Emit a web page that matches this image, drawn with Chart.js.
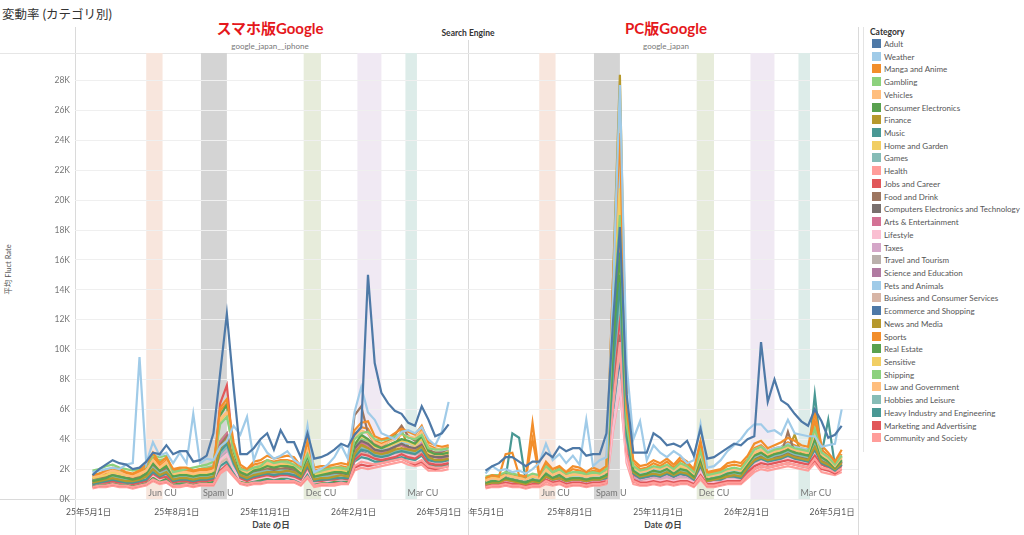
<!DOCTYPE html>
<html lang="ja">
<head>
<meta charset="utf-8">
<script src="https://cdn.jsdelivr.net/npm/chart.js@4.4.1/dist/chart.umd.min.js"></script>
<style>
  body { margin: 0; background: #fff; font-family: Lato, "Noto Sans CJK JP", sans-serif; }
  #page { position: relative; width: 1024px; height: 535px; overflow: hidden; }
  .t { position: absolute; white-space: nowrap; }
  .ln { position: absolute; background: #dadada; }
  canvas { position: absolute; }
  .li { position: absolute; left: 872px; font-size: 8px; color: #555; white-space: nowrap; line-height: 10px; }
  .li span { display: inline-block; width: 9px; height: 9px; vertical-align: -1px; margin-right: 3px; }
</style>
</head>
<body>
<div id="page">
  <div class="t" style="left:2px;top:4px;font-size:12.5px;color:#333;">変動率 (カテゴリ別)</div>
  <div class="t" style="left:170px;width:200px;text-align:center;top:17px;font-size:15px;font-weight:bold;color:#e5181c;">スマホ版Google</div>
  <div class="t" style="left:566px;width:200px;text-align:center;top:17px;font-size:15px;font-weight:bold;color:#e5181c;">PC版Google</div>
  <div class="t" style="left:418px;width:100px;text-align:center;top:28px;font-size:8.5px;font-weight:bold;color:#333;">Search Engine</div>
  <div class="t" style="left:170px;width:200px;text-align:center;top:41px;font-size:8px;color:#777;">google_japan__iphone</div>
  <div class="t" style="left:566px;width:200px;text-align:center;top:41px;font-size:8px;color:#777;">google_japan</div>
  <div class="t" style="left:-28px;top:264px;width:70px;text-align:center;font-size:7.5px;color:#555;transform:rotate(-90deg);">平均 Fluct Rate</div>
  <div class="t" style="left:221px;width:100px;text-align:center;top:518px;font-size:8.5px;font-weight:bold;color:#444;">Date の日</div>
  <div class="t" style="left:613px;width:100px;text-align:center;top:518px;font-size:8.5px;font-weight:bold;color:#444;">Date の日</div>

  <div class="ln" style="left:75px;top:27px;width:1px;height:508px;"></div>
  <div class="ln" style="left:468px;top:40px;width:1px;height:495px;"></div>
  <div class="ln" style="left:858px;top:27px;width:1px;height:508px;"></div>
  <div class="ln" style="left:863px;top:27px;width:1px;height:425px;background:#e4e4e4;"></div>
  <div class="ln" style="left:0;top:53px;width:859px;height:1px;background:#e6e6e6;"></div>
  <div class="ln" style="left:0;top:499px;width:859px;height:1px;"></div>

  <canvas id="mobile" width="468" height="482" style="left:0;top:53px;"></canvas>
  <canvas id="pc" width="390" height="482" style="left:468px;top:53px;"></canvas>

  <div class="t" style="left:870px;top:27px;font-size:8.5px;font-weight:bold;color:#333;">Category</div>
  <div id="legend"></div>
</div>

<script>
// weekly points
const weeks = [
  '2025-05-05','2025-05-12','2025-05-19','2025-05-26','2025-06-02','2025-06-09','2025-06-16','2025-06-23','2025-06-30','2025-07-07',
  '2025-07-14','2025-07-21','2025-07-28','2025-08-04','2025-08-11','2025-08-18','2025-08-25','2025-09-01','2025-09-08','2025-09-15',
  '2025-09-22','2025-09-29','2025-10-06','2025-10-13','2025-10-20','2025-10-27','2025-11-03','2025-11-10','2025-11-17','2025-11-24',
  '2025-12-01','2025-12-08','2025-12-15','2025-12-22','2025-12-29','2026-01-05','2026-01-12','2026-01-19','2026-01-26','2026-02-02',
  '2026-02-09','2026-02-16','2026-02-23','2026-03-02','2026-03-09','2026-03-16','2026-03-23','2026-03-30','2026-04-06','2026-04-13',
  '2026-04-20','2026-04-27','2026-05-04','2026-05-11'
];

const categories = [
  'Adult','Weather','Manga and Anime','Gambling','Vehicles','Consumer Electronics','Finance','Music',
  'Home and Garden','Games','Health','Jobs and Career','Food and Drink','Computers Electronics and Technology',
  'Arts & Entertainment','Lifestyle','Taxes','Travel and Tourism','Science and Education','Pets and Animals',
  'Business and Consumer Services','Ecommerce and Shopping','News and Media','Sports','Real Estate','Sensitive',
  'Shipping','Law and Government','Hobbies and Leisure','Heavy Industry and Engineering','Marketing and Advertising',
  'Community and Society'
];

const colors = [
  '#4e79a7','#a0cbe8','#f28e2b','#8cd17d','#ffbe7d','#59a14f','#b6992d','#499894',
  '#f1ce63','#86bcb6','#ff9d9a','#e15759','#9d7660','#79706e','#d37295','#fabfd2',
  '#d4a6c8','#bab0ac','#b07aa1','#a0cbe8','#d7b5a6','#4e79a7','#b6992d','#f28e2b',
  '#59a14f','#f1ce63','#8cd17d','#ffbe7d','#86bcb6','#499894','#e15759','#ff9d9a'
];

// 平均 Fluct Rate (K), google_japan__iphone, one row per category
const mobileRates = [
  [1.6,2.0,2.3,2.6,2.4,2.3,2.0,2.1,2.5,3.1, 3.0,3.6,3.0,3.2,3.2,2.5,2.6,2.9,4.4,8.4, 12.4,7.5,3.0,3.0,3.4,4.0,4.4,3.3,4.6,3.8, 3.8,2.8,4.4,2.7,2.8,3.0,3.3,3.7,3.5,4.3, 4.8,15.0,9.1,7.1,6.4,5.9,5.7,5.1,4.9,6.2, 5.3,4.2,4.4,5.0], // Adult
  [1.8,1.9,2.0,2.1,2.0,2.3,2.4,9.5,2.4,3.8, 2.9,3.1,2.4,3.1,2.4,5.7,2.4,2.7,2.6,3.5, 3.9,4.9,4.3,5.5,2.6,3.8,3.1,2.7,2.9,3.2, 2.6,2.3,4.9,1.8,2.0,2.3,2.8,3.6,2.7,5.8, 7.5,5.8,5.3,4.4,4.2,4.0,4.5,4.6,4.4,4.8, 4.0,3.6,4.5,6.5], // Weather
  [1.6,1.7,1.9,2.1,2.0,1.8,1.7,1.9,2.3,3.1, 2.4,2.8,2.0,2.1,2.1,1.9,2.0,2.0,2.1,6.1, 6.7,3.8,2.3,2.0,2.5,2.6,2.9,2.7,2.8,2.9, 2.8,2.2,3.9,2.1,2.2,2.2,2.3,2.4,2.3,4.6, 5.1,5.2,4.2,4.0,4.1,4.4,4.7,4.5,4.3,4.9, 3.8,3.6,3.5,3.6], // Manga and Anime
  [1.9,2.0,2.2,2.3,2.1,2.0,1.9,2.0,2.2,2.9, 2.8,2.9,1.8,1.9,2.0,2.1,2.2,2.3,2.5,5.0, 5.5,3.3,2.0,1.9,2.1,2.2,2.6,2.4,2.5,2.5, 2.3,2.0,3.0,1.8,1.9,2.0,2.1,2.1,2.0,4.0, 4.4,4.5,4.0,3.9,4.0,4.2,4.4,4.1,4.0,4.3, 3.4,3.3,3.3,3.4], // Gambling
  [1.5,1.6,1.8,1.9,1.8,1.6,1.5,1.7,1.9,2.6, 2.1,2.5,1.7,1.8,1.8,1.7,1.8,1.8,1.9,5.4, 5.8,3.4,2.0,1.8,2.1,2.3,2.4,2.3,2.4,2.5, 2.3,1.9,3.3,1.8,1.9,1.9,2.0,2.1,2.0,4.1, 4.6,4.4,3.8,3.6,3.8,4.0,4.3,4.2,4.1,4.5, 3.5,3.3,3.4,3.6], // Vehicles
  [1.2,1.3,1.4,1.6,1.5,1.4,1.3,1.4,1.7,2.4, 1.9,2.2,1.5,1.6,1.6,1.5,1.6,1.6,1.7,5.6, 6.3,3.2,1.8,1.6,1.9,2.0,2.2,2.1,2.2,2.2, 2.1,1.7,2.9,1.5,1.6,1.7,1.8,1.8,1.7,3.6, 4.3,4.0,3.6,3.4,3.6,3.8,4.0,3.9,3.7,4.2, 3.2,3.0,3.0,3.1], // Consumer Electronics
  [1.1,1.2,1.3,1.4,1.3,1.2,1.2,1.3,1.5,2.0, 1.6,1.8,1.3,1.4,1.4,1.3,1.4,1.4,1.5,3.4, 4.0,2.6,1.6,1.4,1.6,1.7,1.8,1.8,1.8,1.9, 1.8,1.5,2.4,1.3,1.4,1.4,1.5,1.6,1.5,3.0, 3.6,3.4,3.1,3.0,3.1,3.3,3.4,3.3,3.2,3.5, 2.8,2.6,2.6,2.7], // Finance
  [1.0,1.1,1.2,1.3,1.2,1.1,1.1,1.2,1.3,1.8, 1.5,1.7,1.2,1.3,1.3,1.2,1.3,1.3,1.4,3.2, 3.7,2.4,1.5,1.3,1.5,1.6,1.7,1.6,1.7,1.7, 1.6,1.4,2.2,1.2,1.3,1.3,1.4,1.4,1.4,2.8, 3.3,3.2,2.9,2.8,2.9,3.1,3.2,3.1,3.0,3.3, 2.6,2.5,2.5,2.6], // Music
  [1.4,1.5,1.6,1.8,1.7,1.6,1.5,1.6,1.9,2.6, 2.0,2.4,1.6,1.7,1.7,1.6,1.7,1.7,1.8,5.2, 5.8,3.0,1.9,1.7,2.0,2.1,2.3,2.2,2.3,2.3, 2.2,1.8,3.1,1.6,1.7,1.8,1.9,1.9,1.8,3.7, 4.2,4.0,3.5,3.4,3.5,3.7,3.9,3.8,3.6,4.0, 3.1,3.0,3.0,3.2], // Home and Garden
  [1.2,1.3,1.3,1.5,1.4,1.3,1.2,1.3,1.5,2.1, 1.7,1.9,1.4,1.5,1.5,1.4,1.5,1.5,1.6,3.0, 3.5,2.3,1.6,1.4,1.7,1.8,1.9,1.8,1.9,1.9, 1.8,1.5,2.5,1.4,1.5,1.5,1.6,1.6,1.5,3.0, 3.4,3.3,3.0,2.9,3.0,3.2,3.3,3.2,3.1,3.4, 2.7,2.6,2.6,2.7], // Games
  [0.8,0.9,0.9,1.0,0.9,0.9,0.8,0.9,1.0,1.3, 1.1,1.2,0.9,0.9,1.0,0.9,1.0,1.0,1.0,1.8, 2.2,1.6,1.1,1.0,1.1,1.1,1.2,1.2,1.2,1.2, 1.2,1.0,1.5,0.9,1.0,1.0,1.0,1.1,1.0,2.2, 2.5,2.4,2.3,2.4,2.5,2.6,2.7,2.5,2.4,2.6, 2.2,2.1,2.1,2.2], // Health
  [1.0,1.1,1.1,1.2,1.1,1.1,1.0,1.1,1.2,1.7, 1.4,1.5,1.1,1.2,1.2,1.1,1.2,1.2,1.3,6.4, 7.6,3.0,1.4,1.2,1.4,1.5,1.6,1.5,1.6,1.6, 1.5,1.3,2.1,1.2,1.2,1.3,1.3,1.4,1.3,2.6, 3.0,2.9,2.7,2.6,2.7,2.8,3.0,2.8,2.7,3.0, 2.4,2.3,2.3,2.4], // Jobs and Career
  [1.3,1.4,1.5,1.6,1.5,1.4,1.4,1.5,1.7,2.3, 1.8,2.1,1.5,1.6,1.6,1.5,1.6,1.6,1.7,3.6, 4.2,2.6,1.7,1.5,1.8,1.9,2.0,2.0,2.0,2.1, 2.0,1.6,2.7,1.5,1.6,1.6,1.7,1.8,1.7,5.6, 6.2,4.4,3.7,3.5,3.8,4.3,4.9,4.2,3.9,4.1, 3.3,3.1,3.1,3.2], // Food and Drink
  [1.2,1.3,1.4,1.5,1.4,1.3,1.3,1.4,1.6,2.1, 1.7,1.9,1.4,1.5,1.5,1.4,1.5,1.5,1.6,3.4, 4.0,2.5,1.6,1.5,1.7,1.8,1.9,1.9,1.9,2.0, 1.9,1.5,2.6,1.4,1.5,1.5,1.6,1.7,1.6,3.4, 3.9,3.7,3.3,3.2,3.3,3.5,3.7,3.5,3.4,3.6, 2.9,2.8,2.8,2.9], // Computers Electronics and Technology
  [1.2,1.3,1.4,1.5,1.4,1.3,1.3,1.4,1.6,2.2, 1.7,2.0,1.4,1.5,1.5,1.4,1.5,1.5,1.6,3.8, 4.4,2.6,1.6,1.5,1.7,1.8,1.9,1.9,1.9,2.0, 1.9,1.5,2.6,1.4,1.5,1.5,1.6,1.7,1.6,3.3, 3.8,3.6,3.2,3.1,3.3,3.5,3.6,3.4,3.3,3.7, 2.9,2.8,2.7,2.8], // Arts & Entertainment
  [1.0,1.1,1.1,1.2,1.1,1.1,1.0,1.1,1.2,1.6, 1.3,1.5,1.1,1.2,1.2,1.1,1.2,1.2,1.3,2.6, 3.0,2.0,1.3,1.2,1.3,1.4,1.5,1.4,1.5,1.5, 1.4,1.2,1.9,1.1,1.2,1.2,1.3,1.3,1.3,2.6, 3.0,2.9,2.7,2.7,2.8,2.9,3.0,2.9,2.8,3.0, 2.5,2.4,2.4,2.5], // Lifestyle
  [1.1,1.2,1.2,1.4,1.3,1.2,1.1,1.2,1.4,1.8, 1.5,1.7,1.2,1.3,1.3,1.2,1.3,1.3,1.4,2.9, 3.3,2.2,1.4,1.3,1.5,1.6,1.7,1.6,1.7,1.7, 1.6,1.3,2.1,1.2,1.3,1.3,1.4,1.5,1.4,2.9, 3.3,3.2,2.9,2.8,2.9,3.1,3.2,3.1,3.0,3.3, 2.6,2.5,2.5,2.6], // Taxes
  [1.1,1.2,1.3,1.4,1.3,1.2,1.2,1.3,1.4,1.9, 1.6,1.8,1.3,1.4,1.4,1.3,1.4,1.4,1.5,2.8, 3.2,2.2,1.5,1.3,1.5,1.6,1.7,1.7,1.7,1.8, 1.7,1.4,2.3,1.3,1.4,1.4,1.5,1.5,1.5,3.0, 3.5,3.3,3.0,2.9,3.0,3.2,3.3,3.2,3.1,3.4, 2.7,2.6,2.6,2.7], // Travel and Tourism
  [1.1,1.2,1.2,1.4,1.3,1.2,1.1,1.2,1.4,1.9, 1.5,1.7,1.2,1.3,1.3,1.2,1.3,1.3,1.4,3.1, 3.5,2.3,1.4,1.3,1.5,1.6,1.7,1.6,1.7,1.7, 1.6,1.4,2.2,1.2,1.3,1.3,1.4,1.5,1.4,2.9, 3.4,3.2,2.9,2.8,2.9,3.1,3.3,3.1,3.0,3.3, 2.6,2.5,2.5,2.6], // Science and Education
  [1.3,1.4,1.5,1.6,1.5,1.4,1.4,1.5,1.6,2.2, 1.8,2.0,1.5,1.6,1.6,1.5,1.6,1.6,1.7,2.7, 3.0,2.4,1.7,1.5,1.7,1.8,1.9,1.8,1.9,1.9, 1.8,1.5,2.7,1.4,1.5,1.6,1.7,1.8,1.7,3.4, 3.9,3.6,3.3,3.3,3.4,3.6,3.8,3.7,3.6,3.9, 3.1,3.0,3.2,3.3], // Pets and Animals
  [1.0,1.1,1.2,1.3,1.2,1.1,1.1,1.2,1.3,1.7, 1.4,1.6,1.2,1.2,1.3,1.2,1.2,1.3,1.3,2.4, 2.7,2.0,1.3,1.2,1.4,1.5,1.6,1.5,1.6,1.6, 1.5,1.3,2.0,1.2,1.2,1.3,1.3,1.4,1.3,2.7, 3.1,3.0,2.8,2.7,2.8,3.0,3.1,3.0,2.9,3.2, 2.5,2.4,2.4,2.5], // Business and Consumer Services
  [1.0,1.1,1.2,1.3,1.2,1.2,1.1,1.2,1.3,1.8, 1.5,1.6,1.2,1.3,1.3,1.2,1.3,1.3,1.4,2.8, 3.2,2.2,1.4,1.3,1.5,1.5,1.6,1.6,1.6,1.7, 1.6,1.3,2.2,1.2,1.3,1.3,1.4,1.4,1.4,2.8, 3.2,3.0,2.8,2.7,2.8,3.0,3.1,3.0,2.9,3.2, 2.5,2.4,2.4,2.6], // Ecommerce and Shopping
  [1.2,1.3,1.4,1.5,1.4,1.3,1.3,1.4,1.6,2.1, 1.7,1.9,1.4,1.5,1.5,1.4,1.5,1.5,1.6,3.4, 4.0,2.5,1.6,1.5,1.7,1.8,1.9,1.8,1.9,1.9, 1.8,1.5,2.5,1.4,1.5,1.5,1.6,1.7,1.6,3.2, 3.7,3.5,3.2,3.1,3.2,3.4,4.6,3.5,3.3,3.6, 2.9,2.8,2.8,2.9], // News and Media
  [1.5,1.6,1.7,2.0,1.8,1.7,1.6,1.8,2.1,2.9, 2.2,2.6,1.9,2.0,1.9,1.8,1.9,1.9,2.0,5.9, 6.4,3.5,2.1,1.9,2.3,2.4,2.6,2.5,2.6,2.6, 2.5,2.0,3.6,1.9,2.0,2.1,2.1,2.2,2.1,4.3, 4.8,4.7,3.9,3.7,3.9,4.1,4.3,4.2,4.0,4.6, 3.6,3.4,3.3,3.5], // Sports
  [0.9,1.0,1.0,1.1,1.0,1.0,0.9,1.0,1.1,1.5, 1.2,1.4,1.0,1.1,1.1,1.0,1.1,1.1,1.2,3.0, 3.5,2.1,1.2,1.1,1.3,1.3,1.4,1.4,1.4,1.5, 1.4,1.2,1.9,1.1,1.1,1.2,1.2,1.3,1.2,2.7, 3.1,3.0,2.7,2.6,2.7,2.9,3.0,2.9,2.8,3.1, 2.4,2.3,2.3,2.4], // Real Estate
  [1.3,1.4,1.5,1.6,1.5,1.4,1.4,1.5,1.7,2.3, 1.8,2.1,1.5,1.6,1.6,1.5,1.6,1.6,1.7,2.6, 3.0,2.4,1.7,1.5,1.8,1.9,2.0,1.9,2.0,2.0, 1.9,1.6,2.7,1.5,1.6,1.6,1.7,1.8,1.7,3.2, 3.6,3.5,3.2,3.1,3.2,3.4,3.6,3.4,3.3,3.6, 2.9,2.8,2.8,2.9], // Sensitive
  [1.6,1.7,1.8,2.0,1.9,1.7,1.6,1.8,2.0,2.7, 2.6,2.7,1.7,1.8,1.9,1.9,2.0,2.1,2.2,3.9, 4.4,2.8,1.9,1.8,2.0,2.1,2.4,2.3,2.3,2.4, 2.2,1.8,2.9,1.7,1.8,1.9,2.0,2.0,1.9,3.6, 4.0,3.9,3.6,3.5,3.6,3.8,4.0,3.8,3.7,4.0, 3.2,3.1,3.1,3.2], // Shipping
  [1.3,1.4,1.5,1.7,1.6,1.5,1.4,1.5,1.7,2.4, 1.9,2.2,1.5,1.6,1.6,1.5,1.6,1.6,1.7,3.9, 4.4,2.7,1.8,1.6,1.8,1.9,2.1,2.0,2.1,2.1, 2.0,1.6,2.8,1.5,1.6,1.7,1.8,1.8,1.7,3.5, 4.0,3.8,3.4,3.3,3.4,3.6,3.8,3.7,3.5,3.8, 3.0,2.9,2.9,3.0], // Law and Government
  [1.1,1.2,1.3,1.4,1.3,1.2,1.2,1.3,1.4,1.9, 1.6,1.8,1.3,1.4,1.4,1.3,1.4,1.4,1.5,2.7, 3.0,2.1,1.5,1.3,1.5,1.6,1.7,1.6,1.7,1.7, 1.6,1.4,2.2,1.3,1.3,1.4,1.4,1.5,1.4,2.9, 3.3,3.2,2.9,2.8,2.9,3.1,3.2,3.1,3.0,3.3, 2.6,2.5,2.5,2.6], // Hobbies and Leisure
  [0.9,0.9,1.0,1.1,1.0,1.0,0.9,1.0,1.1,1.4, 1.2,1.3,1.0,1.0,1.1,1.0,1.0,1.1,1.1,2.2, 2.5,1.8,1.2,1.0,1.2,1.2,1.3,1.3,1.3,1.4, 1.3,1.1,1.7,1.0,1.1,1.1,1.2,1.2,1.2,2.5, 2.8,2.7,2.5,2.5,2.6,2.7,2.8,2.7,2.6,2.9, 2.3,2.2,2.2,2.3], // Heavy Industry and Engineering
  [0.8,0.9,0.9,1.0,0.9,0.9,0.8,0.9,1.0,1.3, 1.1,1.2,0.9,1.0,1.0,0.9,1.0,1.0,1.0,1.9, 2.3,1.7,1.1,1.0,1.1,1.1,1.2,1.2,1.2,1.2, 1.2,1.0,1.5,1.0,1.0,1.0,1.1,1.1,1.1,2.1, 2.3,2.2,2.3,2.4,2.5,2.6,2.7,2.5,2.3,2.5, 2.1,2.0,2.1,2.2], // Marketing and Advertising
  [0.7,0.8,0.8,0.9,0.8,0.8,0.7,0.8,0.9,1.2, 1.0,1.1,0.8,0.8,0.9,0.8,0.9,0.9,0.9,1.7, 2.0,1.5,1.0,0.9,1.0,1.0,1.1,1.1,1.1,1.1, 1.1,0.9,1.4,0.8,0.9,0.9,0.9,1.0,1.0,1.9, 2.1,2.0,2.1,2.2,2.3,2.4,2.5,2.3,2.2,2.3, 1.9,1.9,1.9,2.0]  // Community and Society
];

// 平均 Fluct Rate (K), google_japan, one row per category
const pcRates = [
  [1.9,2.2,2.4,2.8,2.8,2.5,2.2,2.5,2.5,3.1, 2.8,3.5,3.2,3.4,3.4,2.9,3.0,3.0,4.4,12.0, 18.2,7.0,3.1,3.1,3.1,4.4,4.1,3.6,3.7,3.5, 3.9,2.9,4.7,2.7,2.8,3.1,3.4,3.7,3.6,4.0, 4.2,10.5,6.5,8.0,6.6,6.3,5.7,5.2,4.9,6.0, 5.2,4.1,4.3,4.9], // Adult
  [1.7,2.2,1.9,2.0,1.8,1.9,1.7,2.0,2.4,3.7, 2.6,3.0,2.4,2.9,2.3,5.3,2.2,2.6,2.8,14.0, 27.7,9.0,4.0,5.2,2.6,3.6,3.1,2.8,3.2,2.9, 2.4,2.6,5.0,2.1,2.2,2.6,3.2,3.6,4.0,4.6, 5.0,5.0,4.5,4.6,4.3,5.3,4.4,4.3,4.2,4.2, 3.5,3.6,3.7,6.0], // Weather
  [1.4,1.6,1.5,3.0,3.1,1.6,1.5,5.1,1.6,2.5, 2.0,2.2,1.8,2.2,2.1,1.8,2.1,1.9,2.2,15.0, 24.5,6.0,2.6,2.2,2.3,2.6,2.4,2.7,2.3,2.8, 2.5,2.0,3.9,1.8,1.9,2.0,2.4,2.5,2.4,2.9, 3.7,3.9,3.4,3.6,3.8,4.1,3.9,3.6,3.5,5.8, 3.6,3.1,2.5,3.3], // Manga and Anime
  [1.5,1.6,1.6,1.8,1.7,1.6,1.5,1.7,1.6,2.2, 1.8,2.0,1.7,1.8,1.8,1.7,1.8,1.7,2.0,12.5, 19.0,5.0,2.2,1.9,2.0,2.2,2.1,2.3,2.0,2.4, 2.2,1.8,3.2,1.6,1.7,1.8,2.0,2.1,2.0,2.6, 3.3,3.5,3.1,3.3,3.4,3.6,3.4,3.3,3.2,4.7, 3.1,2.8,2.3,2.9], // Gambling
  [1.2,1.4,1.3,1.6,1.5,1.4,1.3,1.6,1.4,2.0, 1.6,1.8,1.5,1.7,1.6,1.5,1.6,1.6,1.8,14.0, 26.0,6.5,2.3,1.8,1.9,2.1,2.0,2.2,1.9,2.3, 2.1,1.7,3.0,1.5,1.6,1.7,1.9,2.0,1.9,2.5, 3.1,3.3,3.0,3.2,3.3,3.5,3.3,3.2,3.1,4.4, 3.0,2.7,2.2,2.8], // Vehicles
  [1.1,1.2,1.2,1.4,1.3,1.2,1.1,1.3,1.2,1.7, 1.4,1.6,1.3,1.4,1.4,1.3,1.4,1.4,1.6,10.5, 16.5,4.8,1.9,1.6,1.7,1.9,1.8,2.0,1.7,2.0, 1.9,1.5,2.7,1.3,1.4,1.5,1.7,1.8,1.7,2.3, 2.9,3.1,2.8,3.0,3.1,3.3,3.1,3.0,2.9,4.0, 2.8,2.5,2.1,2.6], // Consumer Electronics
  [1.0,1.1,1.1,1.3,1.2,1.1,1.0,1.2,1.1,1.5, 1.3,1.4,1.2,1.3,1.3,1.2,1.3,1.3,1.5,15.0, 28.4,6.5,1.8,1.5,1.6,1.7,1.6,1.8,1.6,1.8, 1.7,1.4,2.4,1.2,1.3,1.4,1.5,1.6,1.5,2.1, 2.6,2.8,2.6,2.7,2.8,3.0,2.8,2.7,2.6,3.5, 2.5,2.3,2.0,2.4], // Finance
  [1.0,1.1,1.1,1.4,4.4,4.1,1.2,1.2,1.1,1.5, 1.3,1.4,1.2,1.3,1.3,1.2,1.3,1.3,1.4,9.0, 14.5,4.2,1.7,1.4,1.5,1.6,1.5,1.7,1.5,1.7, 1.6,1.3,2.2,1.2,1.3,1.3,1.5,1.5,1.4,2.0, 2.5,2.7,2.5,2.6,2.7,2.9,2.7,2.6,2.5,3.3, 2.4,2.2,1.9,2.3], // Music
  [1.3,1.4,1.4,1.6,1.5,1.4,1.3,1.5,1.4,1.9, 1.6,1.8,1.5,1.6,1.6,1.5,1.6,1.6,1.8,13.0, 20.8,5.5,2.1,1.8,1.9,2.1,2.0,2.2,1.9,2.2, 2.0,1.7,3.0,1.5,1.6,1.7,1.9,2.0,1.9,2.5, 3.1,3.3,3.0,3.2,3.3,3.5,3.3,3.2,3.1,4.3, 3.0,2.7,2.2,2.8], // Home and Garden
  [1.1,1.2,1.2,1.4,1.3,1.2,1.1,1.3,1.2,1.7, 1.4,1.6,1.3,1.4,1.4,1.3,1.4,1.4,1.6,8.5, 13.5,4.0,1.8,1.5,1.6,1.8,1.7,1.9,1.6,1.9, 1.8,1.5,2.6,1.3,1.4,1.5,1.7,1.7,1.6,2.2, 2.8,3.0,2.7,2.9,3.0,3.2,3.0,2.9,2.8,3.8, 2.7,2.5,2.1,2.6], // Games
  [0.8,0.9,0.9,1.0,0.9,0.9,0.8,0.9,0.9,1.2, 1.0,1.1,0.9,1.0,1.0,0.9,1.0,1.0,1.1,6.5, 10.5,3.0,1.2,1.0,1.0,1.1,1.0,1.1,1.0,1.1, 1.1,0.9,1.5,0.9,0.9,1.0,1.1,1.1,1.1,1.6, 2.0,2.2,2.1,2.2,2.3,2.4,2.3,2.2,2.1,2.7, 2.1,2.0,1.8,2.0], // Health
  [0.9,1.0,1.0,1.1,1.0,1.0,0.9,1.0,1.0,1.3, 1.1,1.2,1.0,1.1,1.1,1.0,1.1,1.1,1.2,8.0, 12.3,3.2,1.3,1.1,1.1,1.2,1.1,1.2,1.1,1.2, 1.2,1.0,1.6,1.0,1.0,1.1,1.2,1.2,1.2,1.8, 2.2,2.4,2.3,2.4,2.5,2.6,2.5,2.4,2.3,2.9, 2.3,2.1,1.9,2.2], // Jobs and Career
  [1.1,1.2,1.2,1.4,1.3,1.2,1.1,1.3,1.2,1.7, 1.4,1.6,1.3,1.4,1.4,1.3,1.4,1.4,1.5,7.0, 11.0,3.6,1.7,1.5,1.6,1.7,1.6,1.8,1.6,1.8, 1.7,1.4,2.4,1.3,1.4,1.4,1.6,1.7,1.6,2.2, 2.8,3.0,2.8,2.9,3.0,4.5,3.1,2.9,2.8,3.6, 2.6,2.4,2.1,2.5], // Food and Drink
  [1.1,1.2,1.2,1.4,1.3,1.2,1.1,1.3,1.2,1.6, 1.4,1.5,1.3,1.4,1.4,1.3,1.4,1.4,1.5,8.5, 13.0,3.8,1.7,1.4,1.5,1.6,1.6,1.7,1.5,1.7, 1.6,1.4,2.3,1.3,1.4,1.4,1.6,1.6,1.5,2.1, 2.7,2.9,2.7,2.8,2.9,3.1,2.9,2.8,2.7,3.5, 2.6,2.4,2.1,2.5], // Computers Electronics and Technology
  [1.0,1.1,1.1,1.3,1.2,1.1,1.0,1.2,1.1,1.5, 1.3,1.4,1.2,1.3,1.3,1.2,1.3,1.3,1.4,8.0, 12.7,3.8,1.6,1.4,1.5,1.6,1.5,1.7,1.5,1.7, 1.6,1.3,2.3,1.2,1.3,1.4,1.5,1.6,1.5,2.1, 2.7,2.9,2.7,2.8,2.9,3.1,2.9,2.8,2.7,3.6, 2.6,2.4,2.1,2.5], // Arts & Entertainment
  [0.9,1.0,1.0,1.1,1.0,1.0,0.9,1.0,1.0,1.3, 1.1,1.2,1.0,1.1,1.1,1.0,1.1,1.1,1.2,4.8, 7.5,2.6,1.3,1.1,1.2,1.3,1.2,1.3,1.2,1.3, 1.3,1.1,1.8,1.0,1.1,1.1,1.3,1.3,1.2,1.8, 2.3,2.5,2.4,2.5,2.6,2.7,2.6,2.5,2.4,3.0, 2.3,2.2,1.9,2.2], // Lifestyle
  [1.0,1.1,1.1,1.2,1.1,1.1,1.0,1.1,1.1,1.4, 1.2,1.4,1.1,1.2,1.2,1.1,1.2,1.2,1.3,7.2, 11.5,3.4,1.5,1.3,1.4,1.5,1.4,1.5,1.4,1.5, 1.5,1.2,2.0,1.1,1.2,1.3,1.4,1.4,1.4,1.9, 2.5,2.7,2.5,2.6,2.7,2.9,2.7,2.6,2.5,3.2, 2.5,2.3,2.0,2.3], // Taxes
  [1.0,1.1,1.1,1.3,1.2,1.1,1.0,1.2,1.1,1.5, 1.3,1.5,1.2,1.3,1.3,1.2,1.3,1.3,1.4,7.6, 12.0,3.6,1.6,1.4,1.5,1.6,1.5,1.6,1.5,1.6, 1.6,1.3,2.2,1.2,1.3,1.3,1.5,1.5,1.5,2.0, 2.6,2.8,2.6,2.7,2.8,3.0,2.8,2.7,2.6,3.3, 2.5,2.3,2.0,2.4], // Travel and Tourism
  [1.0,1.1,1.1,1.2,1.2,1.1,1.0,1.1,1.1,1.5, 1.3,1.4,1.2,1.3,1.3,1.2,1.2,1.3,1.4,7.8, 12.5,3.7,1.5,1.3,1.4,1.5,1.5,1.6,1.4,1.6, 1.5,1.3,2.1,1.2,1.2,1.3,1.4,1.5,1.4,2.0, 2.6,2.7,2.6,2.7,2.8,2.9,2.8,2.7,2.6,3.3, 2.5,2.3,2.0,2.4], // Science and Education
  [1.2,1.3,1.3,1.5,1.4,1.3,1.2,1.4,1.3,1.8, 1.5,1.7,1.4,1.5,1.5,1.4,1.5,1.5,1.7,14.0, 22.5,5.5,2.0,1.7,1.8,2.0,1.9,2.1,1.8,2.0, 1.9,1.6,2.8,1.4,1.5,1.6,1.8,1.9,1.8,2.6, 3.3,3.5,3.2,3.4,3.5,3.7,3.5,3.4,3.3,4.2, 3.1,2.8,2.4,2.9], // Pets and Animals
  [0.9,1.0,1.0,1.2,1.1,1.0,0.9,1.1,1.0,1.4, 1.2,1.3,1.1,1.2,1.2,1.1,1.2,1.2,1.3,6.2, 10.0,3.0,1.4,1.2,1.3,1.4,1.3,1.4,1.3,1.4, 1.4,1.2,1.9,1.1,1.1,1.2,1.3,1.4,1.3,1.8, 2.4,2.6,2.4,2.5,2.6,2.8,2.6,2.5,2.4,3.1, 2.4,2.2,1.9,2.3], // Business and Consumer Services
  [1.0,1.1,1.1,1.3,1.2,1.1,1.0,1.2,1.1,1.5, 1.3,1.4,1.2,1.3,1.3,1.2,1.3,1.3,1.4,6.0, 9.5,3.0,1.5,1.3,1.4,1.5,1.4,1.6,1.4,1.6, 1.5,1.3,2.1,1.2,1.3,1.3,1.4,1.5,1.4,2.0, 2.6,2.8,2.6,2.7,2.8,3.0,2.8,2.7,2.6,3.3, 2.5,2.3,2.0,2.4], // Ecommerce and Shopping
  [1.1,1.2,1.2,1.4,1.3,1.2,1.1,1.3,1.2,1.6, 1.4,1.6,1.3,1.4,1.4,1.3,1.4,1.4,1.6,14.0, 23.0,5.5,1.9,1.6,1.7,1.8,1.7,1.9,1.7,1.9, 1.8,1.5,2.5,1.3,1.4,1.5,1.6,1.7,1.6,2.3, 2.9,3.1,2.9,3.0,3.1,3.3,4.3,3.0,2.9,3.8, 2.7,2.5,2.1,2.6], // News and Media
  [1.3,1.5,1.4,1.8,1.7,1.5,1.4,4.0,1.5,2.3, 1.8,2.1,1.7,2.0,1.9,1.7,1.9,1.8,2.0,12.0, 17.5,5.5,2.4,2.0,2.1,2.4,2.2,2.5,2.1,2.6, 2.3,1.8,3.6,1.7,1.8,1.9,2.2,2.3,2.2,2.7, 3.4,3.6,3.2,3.4,3.5,3.8,3.6,3.4,3.3,5.2, 3.3,2.9,2.4,3.0], // Sports
  [0.9,1.0,1.0,1.1,1.0,1.0,0.9,1.0,1.0,1.3, 1.1,1.3,1.1,1.1,1.2,1.1,1.1,1.2,1.3,9.5, 15.0,4.2,1.5,1.3,1.4,1.5,1.4,1.5,1.4,1.5, 1.5,1.2,2.1,1.1,1.2,1.2,1.4,1.4,1.4,1.9, 2.5,2.7,2.5,2.6,2.7,2.9,2.7,2.6,2.5,3.2, 2.4,2.2,1.9,2.3], // Real Estate
  [1.2,1.3,1.3,1.5,1.4,1.3,1.2,1.4,1.3,1.8, 1.5,1.7,1.4,1.5,1.5,1.4,1.5,1.5,1.7,10.0, 16.0,4.6,1.8,1.6,1.7,1.8,1.7,1.9,1.7,1.9, 1.8,1.5,2.7,1.4,1.5,1.5,1.7,1.8,1.7,2.3, 2.9,3.1,2.9,3.0,3.1,3.3,3.1,3.0,2.9,3.9, 2.8,2.5,2.1,2.6], // Sensitive
  [1.4,1.5,1.5,1.7,1.6,1.5,1.4,1.6,1.5,2.0, 1.7,1.9,1.6,1.7,1.7,1.6,1.7,1.7,1.9,9.0, 14.0,4.4,2.0,1.8,1.9,2.0,1.9,2.1,1.9,2.1, 2.0,1.7,2.9,1.5,1.6,1.7,1.9,2.0,1.9,2.5, 3.1,3.3,3.0,3.2,3.3,3.5,3.3,3.2,3.1,4.1, 3.0,2.7,2.2,2.8], // Shipping
  [1.2,1.3,1.3,1.5,1.4,1.3,1.2,1.4,1.3,1.8, 1.5,1.7,1.4,1.5,1.5,1.4,1.5,1.5,1.7,13.5, 21.5,5.2,2.0,1.7,1.8,1.9,1.8,2.0,1.8,2.0, 1.9,1.6,2.8,1.4,1.5,1.6,1.8,1.9,1.8,2.4, 3.0,3.2,2.9,3.1,3.2,3.4,3.2,3.1,3.0,4.0, 2.9,2.6,2.2,2.7], // Law and Government
  [1.0,1.1,1.1,1.3,1.2,1.1,1.0,1.2,1.1,1.5, 1.3,1.5,1.2,1.3,1.3,1.2,1.3,1.3,1.4,8.2, 13.0,3.9,1.6,1.4,1.5,1.6,1.5,1.7,1.5,1.7, 1.6,1.3,2.3,1.2,1.3,1.4,1.5,1.6,1.5,2.1, 2.7,2.9,2.7,2.8,2.9,3.1,2.9,2.8,2.7,3.5, 2.6,2.4,2.0,2.5], // Hobbies and Leisure
  [0.9,1.0,1.0,1.1,1.0,1.0,0.9,1.0,1.0,1.3, 1.1,1.2,1.0,1.1,1.1,1.0,1.1,1.1,1.2,9.8, 15.5,4.3,1.5,1.2,1.3,1.4,1.3,1.5,1.3,1.4, 1.4,1.2,2.0,1.1,1.1,1.2,1.3,1.4,1.3,1.8, 2.4,2.6,2.4,2.5,2.6,2.8,2.6,2.5,2.4,7.0, 3.0,5.3,2.2,2.4], // Heavy Industry and Engineering
  [0.8,0.9,0.9,1.0,0.9,0.9,0.8,0.9,0.9,1.2, 1.0,1.1,0.9,1.0,1.0,0.9,1.0,1.0,1.1,7.5, 11.8,3.0,1.2,1.0,1.0,1.1,1.0,1.1,1.0,1.1, 1.1,0.9,1.5,0.9,0.9,1.0,1.1,1.1,1.1,1.6, 2.0,2.2,2.1,2.2,2.3,2.4,2.3,2.2,2.1,2.6, 2.0,1.9,1.7,2.0], // Marketing and Advertising
  [0.7,0.8,0.8,0.9,0.8,0.8,0.7,0.8,0.8,1.0, 0.9,1.0,0.8,0.9,0.9,0.8,0.9,0.9,1.0,4.6, 7.3,2.4,1.0,0.9,0.9,1.0,0.9,1.0,0.9,1.0, 1.0,0.8,1.3,0.8,0.8,0.9,1.0,1.0,1.0,1.4, 1.8,2.0,1.9,2.0,2.1,2.2,2.1,2.0,1.9,2.4, 1.8,1.7,1.6,1.8]  // Community and Society
];

// x axis ticks
const xTickDates = ['2025-05-01','2025-08-01','2025-11-01','2026-02-01','2026-05-01'];
const xTickLabels = ['25年5月1日','25年8月1日','25年11月1日','26年2月1日','26年5月1日'];
const yTicks = [0,2,4,6,8,10,12,14,16,18,20,22,24,26,28];

// annotation bands (updates)
const bandNames = ['Jun CU','Spam U','Dec CU','','Mar CU'];
const bandStarts = ['2025-06-30','2025-08-26','2025-12-11','2026-02-05','2026-03-27'];
const bandEnds = ['2025-07-17','2025-09-22','2025-12-29','2026-03-02','2026-04-08'];
const bandColors = ['#f8e6dd','#d4d4d4','#e7ecdb','#f0e9f3','#ddece9'];

const day = d => (Date.parse(d) - Date.parse('2025-05-01')) / 86400000;

const bandPlugin = {
  id: 'bands',
  beforeDraw(chart) {
    const { ctx, chartArea: a, scales: { x } } = chart;
    ctx.save();
    bandStarts.forEach((s, i) => {
      const x0 = x.getPixelForValue(day(s));
      const x1 = x.getPixelForValue(day(bandEnds[i]));
      ctx.fillStyle = bandColors[i];
      ctx.fillRect(x0, a.top, x1 - x0, a.bottom - a.top);
    });
    ctx.restore();
  },
  beforeDatasetsDraw(chart) {
    const { ctx, chartArea: a, scales: { x } } = chart;
    ctx.save();
    ctx.font = '9px Lato, "Noto Sans", sans-serif';
    ctx.fillStyle = '#777';
    ctx.textBaseline = 'middle';
    bandStarts.forEach((s, i) => {
      if (bandNames[i]) ctx.fillText(bandNames[i], x.getPixelForValue(day(s)) + 2, a.bottom - 6);
    });
    ctx.restore();
  }
};

function makeChart(id, rows, xMax, showY) {
  const datasets = categories.map((c, i) => ({
    label: c,
    data: weeks.map((w, k) => ({ x: day(w), y: rows[i][k] })),
    borderColor: colors[i],
    backgroundColor: colors[i],
    borderWidth: 2.2,
    pointRadius: 0,
    tension: 0
  }));
  return new Chart(document.getElementById(id), {
    type: 'line',
    data: { datasets },
    options: {
      responsive: false,
      animation: false,
      devicePixelRatio: 1,
      layout: { padding: 0 },
      plugins: { legend: { display: false }, tooltip: { enabled: false } },
      scales: {
        x: {
          type: 'linear',
          min: -14.2,
          max: xMax,
          grid: { display: false, drawTicks: false },
          border: { display: false },
          afterBuildTicks: s => { s.ticks = xTickDates.map(d => ({ value: day(d) })); },
          afterFit: s => { s.height = 36; s.paddingLeft = 0; s.paddingRight = 0; },
          ticks: {
            autoSkip: false,
            maxRotation: 0,
            padding: 8,
            font: { size: 8.5, family: 'Lato, "Noto Sans CJK JP", sans-serif' },
            color: '#555',
            callback: (v, i) => xTickLabels[i]
          }
        },
        y: {
          min: 0,
          max: 29.85,
          grid: { color: '#efefef', drawTicks: false },
          border: { display: false },
          afterBuildTicks: s => { s.ticks = yTicks.map(v => ({ value: v })); },
          afterFit: s => { s.width = showY ? 75 : 0; s.paddingTop = 0; s.paddingBottom = 0; },
          ticks: {
            display: showY,
            padding: 5,
            font: { size: 8.5, family: 'Lato, sans-serif' },
            color: '#777',
            callback: v => v + 'K'
          }
        }
      }
    },
    plugins: [bandPlugin]
  });
}

makeChart('mobile', mobileRates, 395.2, true);
makeChart('pc', pcRates, 392, false);

// legend
const legend = document.getElementById('legend');
categories.forEach((c, i) => {
  const el = document.createElement('div');
  el.className = 'li';
  el.style.top = (39 + i * 12.72) + 'px';
  el.innerHTML = '<span style="background:' + colors[i] + '"></span>' + c;
  legend.appendChild(el);
});
</script>
</body>
</html>
